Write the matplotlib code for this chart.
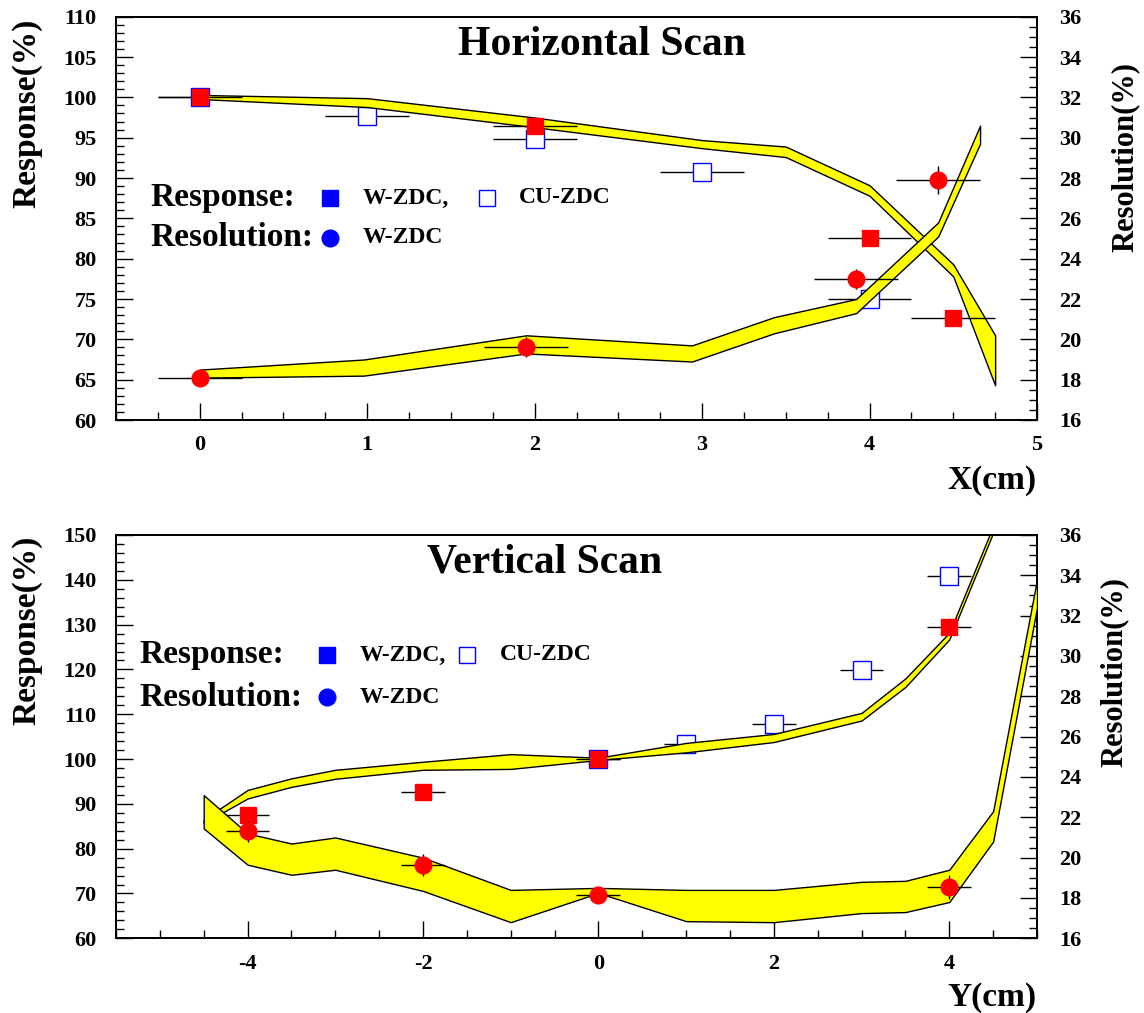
import numpy as np
import matplotlib
matplotlib.use('Agg')
import matplotlib.pyplot as plt
from matplotlib.ticker import MultipleLocator, FixedLocator

plt.rcParams['font.family'] = 'Liberation Serif'
plt.rcParams['font.weight'] = 'bold'
plt.rcParams['axes.unicode_minus'] = False

# ---------------- horizontal scan ----------------
hx_w = [0, 2, 4, 4.5]
hresp_w = [100.0, 96.5, 82.6, 72.6]
hx_cu = [0, 1, 2, 3, 4]
hresp_cu = [100.0, 97.7, 94.8, 90.7, 75.0]
hx_res = [0, 1.95, 3.92, 4.41]
hres_w = [18.1, 19.6, 23.0, 27.9]
hres_err = [0.2, 0.5, 0.5, 0.7]

# response band (left scale)
hband_x = [0, 1, 2, 3, 3.5, 4, 4.5, 4.75]
hband_hi = [100.3, 99.9, 97.5, 94.7, 93.9, 89.1, 79.3, 70.5]
hband_lo = [99.8, 98.8, 96.3, 93.7, 92.6, 87.8, 77.8, 64.3]
# resolution band (right scale)
hrband_x = [0, 0.98, 1.95, 2.94, 3.43, 3.92, 4.41, 4.66]
hrband_hi = [18.5, 19.0, 20.2, 19.7, 21.1, 22.0, 25.8, 30.6]
hrband_lo = [18.1, 18.2, 19.3, 18.9, 20.3, 21.3, 25.1, 29.7]

# ---------------- vertical scan ----------------
vx_w = [-4, -2, 0, 4]
vresp_w = [87.5, 92.7, 100.0, 129.4]
vx_cu = [0, 1, 2, 3, 4]
vresp_cu = [100.0, 103.4, 107.8, 119.9, 140.8]
vx_res = [-4, -2, 0, 4]
vres_w = [21.3, 19.65, 18.15, 18.55]
vres_err = [0.5, 0.55, 0.2, 0.6]

vband_x = [-4.5, -4, -3.5, -3, -2, -1, 0, 1, 2, 3, 3.5, 4, 4.5]
vband_hi = [86.5, 93.1, 95.7, 97.6, 99.4, 101.1, 100.3, 103.6, 105.6, 110.3, 118.0, 128.2, 152.0]
vband_lo = [85.7, 91.2, 93.8, 95.6, 97.6, 97.8, 99.8, 101.5, 103.8, 108.6, 116.1, 126.7, 150.5]

vrband_x = [-4.5, -4, -3.5, -3, -2, -1, 0, 1, 2, 3, 3.5, 4, 4.5, 5]
vrband_hi = [23.1, 21.2, 20.7, 21.0, 20.0, 18.4, 18.5, 18.4, 18.4, 18.8, 18.85, 19.4, 22.3, 33.8]
vrband_lo = [21.45, 19.65, 19.15, 19.4, 18.35, 16.8, 18.25, 16.85, 16.8, 17.25, 17.3, 17.8, 20.8, 32.4]

XERR = 0.25

fig = plt.figure(figsize=(11.44, 10.13), dpi=100)
W, H = 1144, 1013


def panel(bottom_px, xlim, ylim, rlim, title, title_xy, legend):
    ax = fig.add_axes([116 / W, (H - bottom_px) / H, 921 / W, 403.3 / H])
    ax2 = ax.twinx()
    ax.set_xlim(*xlim)
    ax.set_ylim(*ylim)
    ax2.set_ylim(*rlim)
    for a in (ax, ax2):
        for s in a.spines.values():
            s.set_linewidth(1.3)
    ax.tick_params(axis='both', which='both', direction='in', top=False, right=False,
                   labelsize=16, width=1)
    ax.tick_params(axis='both', which='major', length=12)
    ax.tick_params(axis='both', which='minor', length=6)
    ax.tick_params(axis='y', pad=14)
    ax.tick_params(axis='x', pad=11)
    ax2.tick_params(axis='y', which='both', direction='in', labelsize=16, width=1, pad=16)
    ax2.tick_params(axis='y', which='major', length=12)
    ax2.tick_params(axis='y', which='minor', length=6)
    ax2.yaxis.set_major_locator(MultipleLocator(2))
    ax2.yaxis.set_minor_locator(MultipleLocator(0.5))
    ax.text(title_xy[0], title_xy[1], title, transform=ax.transAxes, ha='center',
            va='center', fontsize=30, fontweight='bold')
    # legend drawn by hand
    lx, sqx, wx, osx, cux, ry, sy = legend
    ax.text(lx, ry, 'Response:', transform=ax.transAxes, fontsize=24, va='center')
    ax.text(lx, sy, 'Resolution:', transform=ax.transAxes, fontsize=24, va='center')
    ax.plot([sqx], [ry], 's', color='blue', ms=12, transform=ax.transAxes, clip_on=False)
    ax.plot([osx], [ry], 's', mfc='white', mec='blue', mew=1, ms=12,
            transform=ax.transAxes, clip_on=False)
    ax.plot([sqx], [sy], 'o', color='blue', ms=12, transform=ax.transAxes, clip_on=False)
    ax.text(wx, ry, 'W-ZDC,', transform=ax.transAxes, fontsize=17, va='center')
    ax.text(cux, ry, 'CU-ZDC', transform=ax.transAxes, fontsize=17, va='center')
    ax.text(wx, sy, 'W-ZDC', transform=ax.transAxes, fontsize=17, va='center')
    return ax, ax2


def draw(ax, ax2, xcu, rcu, xw, rw, bx, bhi, blo, rbx, rbhi, rblo, xres, res, reserr):
    ax.errorbar(xcu, rcu, xerr=XERR, fmt='s', mfc='white', mec='blue', mew=1, ms=12.5,
                ecolor='black', elinewidth=1, capsize=0, zorder=2)
    ax.fill_between(bx, blo, bhi, facecolor='yellow', edgecolor='black', lw=1, zorder=3)
    ax.errorbar(xw, rw, xerr=XERR, fmt='s', color='red', ms=11.5,
                ecolor='black', elinewidth=1, capsize=0, zorder=4)
    ax2.fill_between(rbx, rblo, rbhi, facecolor='yellow', edgecolor='black', lw=1, zorder=3)
    ax2.errorbar(xres, res, xerr=XERR, yerr=reserr, fmt='o', color='red', ms=12,
                 ecolor='black', elinewidth=1, capsize=0, zorder=4)


# top panel
ax, ax2 = panel(420, (-0.5, 5), (60, 110), (16, 36), 'Horizontal Scan', (0.5277, 0.93),
                (0.0369, 0.2324, 0.268, 0.4028, 0.4376, 0.5505, 0.4513))
ax.xaxis.set_major_locator(MultipleLocator(1))
ax.xaxis.set_minor_locator(MultipleLocator(0.25))
ax.yaxis.set_major_locator(MultipleLocator(5))
ax.yaxis.set_minor_locator(MultipleLocator(1))
draw(ax, ax2, hx_cu, hresp_cu, hx_w, hresp_w, hband_x, hband_hi, hband_lo,
     hrband_x, hrband_hi, hrband_lo, hx_res, hres_w, hres_err)

# bottom panel
bx, bx2 = panel(938.3, (-5.5, 5), (60, 150), (16, 36), 'Vertical Scan', (0.4658, 0.9306),
                (0.025, 0.2291, 0.2649, 0.3811, 0.4169, 0.7025, 0.5983))
bx.xaxis.set_major_locator(FixedLocator([-4, -2, 0, 2, 4]))
bx.xaxis.set_minor_locator(MultipleLocator(0.5))
bx.yaxis.set_major_locator(MultipleLocator(10))
bx.yaxis.set_minor_locator(MultipleLocator(2))
draw(bx, bx2, vx_cu, vresp_cu, vx_w, vresp_w, vband_x, vband_hi, vband_lo,
     vrband_x, vrband_hi, vrband_lo, vx_res, vres_w, vres_err)

# axis titles
fig.text(27 / W, 1 - 113 / H, 'Response(%)', rotation=90, ha='center', va='center', fontsize=24)
fig.text(27 / W, 1 - 630 / H, 'Response(%)', rotation=90, ha='center', va='center', fontsize=24)
fig.text(1125 / W, 1 - 157 / H, 'Resolution(%)', rotation=90, ha='center', va='center', fontsize=22)
fig.text(1114 / W, 1 - 672 / H, 'Resolution(%)', rotation=90, ha='center', va='center', fontsize=22)
fig.text(1036 / W, 1 - 481 / H, 'X(cm)', ha='right', va='center', fontsize=24)
fig.text(1036 / W, 1 - 997 / H, 'Y(cm)', ha='right', va='center', fontsize=24)

fig.savefig('out.png', dpi=100)
